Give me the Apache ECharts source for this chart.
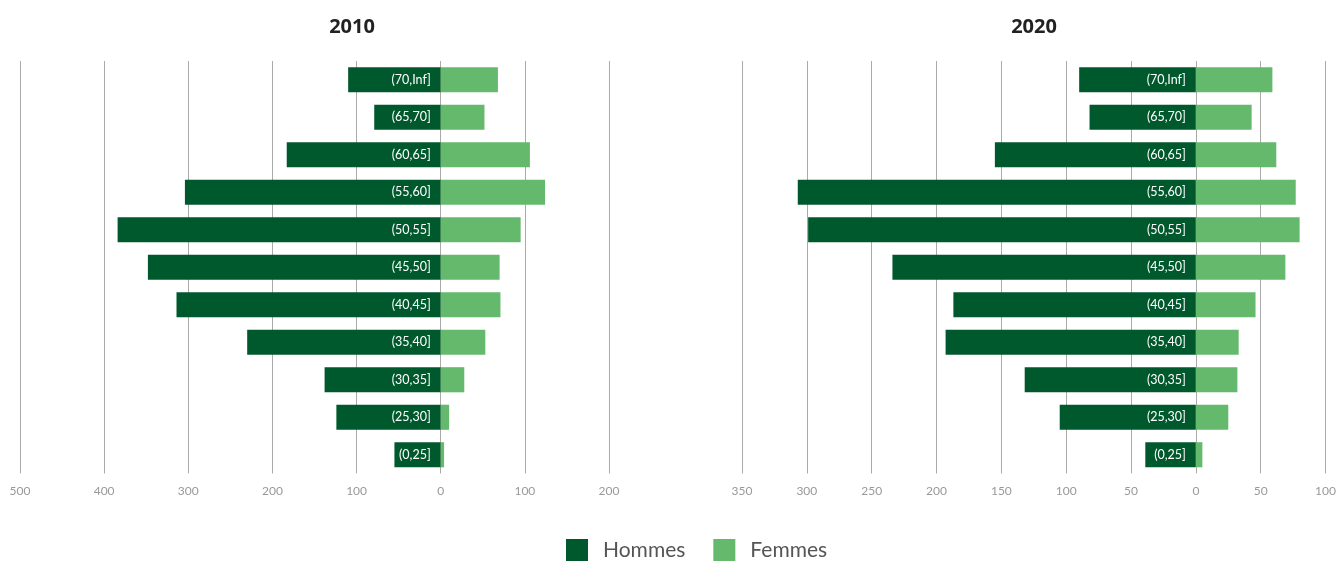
<!DOCTYPE html>
<html>
<head>
<meta charset="utf-8">
<script src="https://cdn.jsdelivr.net/npm/echarts@6/dist/echarts.min.js"></script>
<style>html,body{margin:0;padding:0;background:#fff}#c{width:1339px;height:561px}</style>
</head>
<body>
<div id="c"></div>
<script>
var categories = ['(0,25]','(25,30]','(30,35]','(35,40]','(40,45]','(45,50]','(50,55]','(55,60]','(60,65]','(65,70]','(70,Inf]'];
var hommes2010 = [55,124,138,230,314,348,384,304,183,79,110];
var femmes2010 = [4,10,28,53,71,70,95,124,106,52,68];
var hommes2020 = [39,105,132,193,187,234,299,307,155,82,90];
var femmes2020 = [5,25,32,33,46,69,80,77,62,43,59];
var titles = ['2010','2020'];
var seriesNames = ['Hommes','Femmes'];

var DARK = '#00592C', LIGHT = '#65B96D';
var chart = echarts.init(document.getElementById('c'));
function neg(a){return a.map(function(v){return -v;});}
function xAxis(idx,min,max,interval){
  return {type:'value',gridIndex:idx,min:min,max:max,interval:interval,
    axisLine:{show:false},axisTick:{show:false},
    axisLabel:{color:'#999',fontSize:12,fontFamily:'Lato',margin:12,formatter:function(v){return Math.abs(v);}},
    splitLine:{show:true,lineStyle:{color:'#aaa',width:1}}};
}
function yAxis(idx){
  return {type:'category',gridIndex:idx,data:categories,show:false};
}
function menSeries(idx,data){
  return {name:seriesNames[0],type:'bar',xAxisIndex:idx,yAxisIndex:idx,data:neg(data),
    barGap:'-100%',barCategoryGap:'33%',itemStyle:{color:DARK},
    label:{show:true,position:'insideRight',distance:10,color:'#fff',fontSize:12.5,fontFamily:'Lato',
      formatter:function(p){return p.name;}}};
}
function womenSeries(idx,data){
  return {name:seriesNames[1],type:'bar',xAxisIndex:idx,yAxisIndex:idx,data:data,
    barGap:'-100%',barCategoryGap:'33%',itemStyle:{color:LIGHT}};
}
chart.setOption({
  animation:false,
  title:[
    {text:titles[0],left:347,top:12,textAlign:'center',textStyle:{fontSize:20,fontWeight:'bold',color:'#222',fontFamily:'Open Sans'}},
    {text:titles[1],left:1029,top:12,textAlign:'center',textStyle:{fontSize:20,fontWeight:'bold',color:'#222',fontFamily:'Open Sans'}}
  ],
  legend:{data:seriesNames,top:539,left:566,padding:0,itemWidth:22,itemHeight:22,itemGap:28,
    icon:'rect',textStyle:{fontSize:21,color:'#555',fontFamily:'Lato',padding:[0,0,0,10]}},
  grid:[
    {left:20,width:589,top:61,height:412.5,containLabel:false},
    {left:742,width:584,top:61,height:412.5,containLabel:false}
  ],
  xAxis:[xAxis(0,-500,200,100),xAxis(1,-350,100,50)],
  yAxis:[yAxis(0),yAxis(1)],
  series:[menSeries(0,hommes2010),womenSeries(0,femmes2010),menSeries(1,hommes2020),womenSeries(1,femmes2020)]
});
</script>
</body>
</html>
